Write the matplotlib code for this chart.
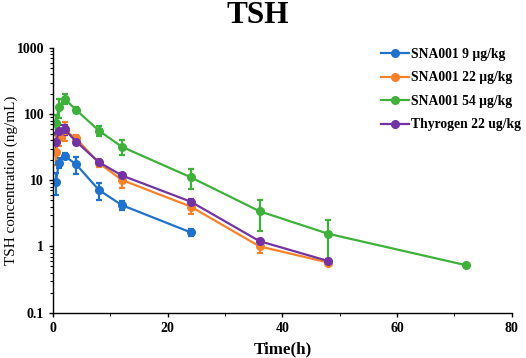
import matplotlib
matplotlib.use("Agg")
import matplotlib.pyplot as plt
from matplotlib.lines import Line2D
from matplotlib.ticker import LogLocator, FixedLocator, NullFormatter, FuncFormatter

plt.rcParams['font.family'] = ['Liberation Serif', 'DejaVu Serif']

t_blue = [0.5, 1, 2, 4, 8, 12, 24]
blue = [9.5, 18.5, 23.4, 17.4, 7.1, 4.2, 1.63]
blue_err = [3.5, 3.0, 2.5, 5.0, 2.0, 0.7, 0.2]

t_orange = [0.5, 1, 2, 4, 8, 12, 24, 36, 48]
orange = [27.0, 45.0, 57.0, 43.0, 18.1, 10.1, 4.0, 1.0, 0.57]
orange_err = [10.0, 12.0, 18.0, 6.0, 2.5, 2.5, 0.9, 0.2, 0.05]

t_green = [0.5, 1, 2, 4, 8, 12, 24, 36, 48, 72]
green = [73, 128, 171, 116, 56, 32, 11.1, 3.4, 1.55, 0.52]
green_err = [25, 40, 30, 12, 9, 8, 3.8, 1.7, 0.97, 0.02]

t_purple = [0.5, 1, 2, 4, 8, 12, 24, 36, 48]
purple = [37.7, 54.6, 59.0, 38.5, 18.7, 11.8, 4.75, 1.2, 0.6]
purple_err = [14.0, 14.0, 10.0, 4.0, 1.5, 1.0, 0.4, 0.1, 0.05]

labels = ['SNA001 9 µg/kg', 'SNA001 22 µg/kg', 'SNA001 54 µg/kg', 'Thyrogen 22 ug/kg']
colors = ['#1f72cc', '#f7822a', '#3db13a', '#7433a3']

fig = plt.figure(figsize=(5.26, 3.58), dpi=100)
ax = fig.add_axes([0.101, 0.127, 0.872, 0.739])

series = [(t_blue, blue, blue_err), (t_orange, orange, orange_err),
          (t_green, green, green_err), (t_purple, purple, purple_err)]
handles = []
for (t, v, e), lab, c in zip(series, labels, colors):
    ax.errorbar(t, v, yerr=e, color=c, marker='o', markersize=5.5, linewidth=1.6,
                elinewidth=1.6, capsize=2.5, capthick=1.6)
    handles.append(Line2D([], [], color=c, marker='o', markersize=5.5,
                          linewidth=1.6, label=lab))

ax.set_yscale('log')
ax.set_ylim(0.1, 1000)
ax.set_xlim(0, 80)
ax.set_xticks([0, 20, 40, 60, 80])
ax.xaxis.set_minor_locator(FixedLocator([10, 30, 50, 70]))
ax.set_yticks([0.1, 1, 10, 100, 1000])
ax.yaxis.set_major_formatter(FuncFormatter(lambda v, p: ('%g' % v)))
ax.yaxis.set_minor_locator(LogLocator(base=10, subs=range(2, 10)))
ax.yaxis.set_minor_formatter(NullFormatter())

for s in ['top', 'right']:
    ax.spines[s].set_visible(False)
for s in ['left', 'bottom']:
    ax.spines[s].set_linewidth(1.0)

ax.tick_params(axis='both', which='major', direction='out', length=3, width=1.0,
               labelsize=10)
ax.tick_params(axis='both', which='minor', direction='out', length=2.5, width=0.8)
for lbl in ax.get_xticklabels() + ax.get_yticklabels():
    lbl.set_fontweight('bold')

ax.set_xlabel('Time(h)', fontsize=12.2, fontweight='bold', labelpad=5)
ax.set_ylabel('TSH concentration (ng/mL)', fontsize=10.9)
ax.yaxis.set_label_coords(-0.077, 0.5)

fig.text(0.49, 0.9575, 'TSH', ha='center', va='center', fontsize=22.5, fontweight='bold')

leg = ax.legend(handles=handles, loc='upper left', bbox_to_anchor=(0.7146, 1.0),
                frameon=False, prop={'weight': 'bold', 'size': 9.8},
                handlelength=2.06, handletextpad=0.15, labelspacing=0.77,
                borderpad=0, borderaxespad=0)

fig.savefig('out.png', dpi=100)
